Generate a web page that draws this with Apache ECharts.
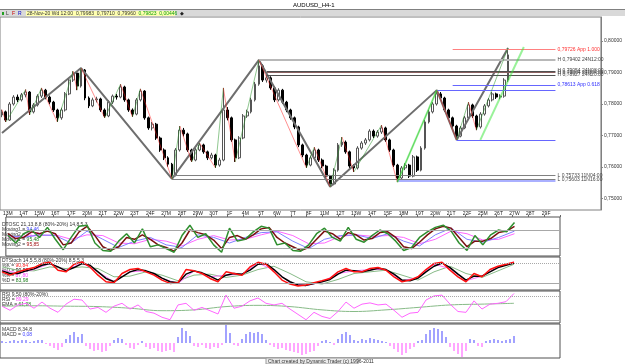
<!DOCTYPE html>
<html><head><meta charset="utf-8">
<script src="https://cdn.jsdelivr.net/npm/echarts@6/dist/echarts.min.js"></script>
<style>html,body{margin:0;padding:0;background:#fff;}#c{width:625px;height:364px;}</style>
</head><body><div id="c"></div>
<script>
// ---------- DATA ----------
const tickLabels = ['13M','14T','15W','16T','17F','20M','21T','22W','23T','24F','27M','28T','29W','30T','1F','4M','5T','6W','7T','8F','11M','12T','13W','14T','15F','18M','19T','20W','21T','22F','25M','26T','27W','28T','29F','1M','2T','3W'];
// [open, close, low, high]
const candles = [
[0.7765,0.7775,0.7758,0.7782],[0.7775,0.7749,0.7743,0.7779],[0.7749,0.7800,0.7746,0.7806],[0.7800,0.7822,0.7795,0.7828],
[0.7822,0.7813,0.7806,0.7830],[0.7813,0.7829,0.7808,0.7835],[0.7829,0.7838,0.7821,0.7846],[0.7838,0.7775,0.7765,0.7841],
[0.7775,0.7797,0.7770,0.7803],[0.7797,0.7825,0.7792,0.7831],[0.7825,0.7844,0.7819,0.7851],[0.7844,0.7822,0.7815,0.7848],
[0.7822,0.7806,0.7799,0.7827],[0.7806,0.7781,0.7775,0.7810],[0.7781,0.7756,0.7743,0.7785],[0.7756,0.7781,0.7750,0.7788],
[0.7781,0.7832,0.7776,0.7838],[0.7832,0.7876,0.7828,0.7882],[0.7876,0.7898,0.7870,0.7904],[0.7898,0.7857,0.7844,0.7901],
[0.7857,0.7908,0.7852,0.7914],[0.7908,0.7819,0.7812,0.7911],[0.7819,0.7794,0.7787,0.7824],[0.7794,0.7813,0.7790,0.7820],
[0.7813,0.7816,0.7805,0.7823],[0.7816,0.7781,0.7775,0.7820],[0.7781,0.7762,0.7756,0.7786],[0.7762,0.7806,0.7758,0.7812],
[0.7806,0.7825,0.7800,0.7830],[0.7825,0.7822,0.7814,0.7832],[0.7822,0.7854,0.7818,0.7863],[0.7854,0.7813,0.7807,0.7858],
[0.7813,0.7781,0.7775,0.7817],[0.7781,0.7768,0.7759,0.7786],[0.7768,0.7813,0.7764,0.7819],[0.7813,0.7841,0.7808,0.7848],
[0.7841,0.7756,0.7750,0.7844],[0.7756,0.7724,0.7718,0.7760],[0.7724,0.7736,0.7716,0.7743],[0.7736,0.7692,0.7686,0.7740],
[0.7692,0.7654,0.7648,0.7697],[0.7654,0.7629,0.7622,0.7659],[0.7629,0.7609,0.7601,0.7634],[0.7609,0.7575,0.7562,0.7613],
[0.7575,0.7654,0.7570,0.7660],[0.7654,0.7717,0.7649,0.7730],[0.7717,0.7705,0.7697,0.7724],[0.7705,0.7654,0.7648,0.7709],
[0.7654,0.7622,0.7616,0.7658],[0.7622,0.7654,0.7618,0.7660],[0.7654,0.7670,0.7650,0.7676],[0.7670,0.7648,0.7642,0.7674],
[0.7648,0.7629,0.7622,0.7652],[0.7629,0.7638,0.7624,0.7645],[0.7638,0.7606,0.7597,0.7642],[0.7606,0.7622,0.7601,0.7629],
[0.7622,0.7781,0.7618,0.7851],[0.7781,0.7756,0.7748,0.7790],[0.7756,0.7686,0.7680,0.7760],[0.7686,0.7629,0.7616,0.7690],
[0.7629,0.7692,0.7625,0.7698],[0.7692,0.7762,0.7688,0.7768],[0.7762,0.7775,0.7756,0.7782],[0.7775,0.7813,0.7770,0.7820],
[0.7813,0.7863,0.7808,0.7870],[0.7863,0.7921,0.7858,0.7940],[0.7921,0.7876,0.7870,0.7926],[0.7876,0.7883,0.7868,0.7892],
[0.7883,0.7851,0.7845,0.7888],[0.7851,0.7813,0.7806,0.7856],[0.7813,0.7844,0.7808,0.7850],[0.7844,0.7806,0.7800,0.7848],
[0.7806,0.7781,0.7774,0.7810],[0.7781,0.7756,0.7750,0.7785],[0.7756,0.7727,0.7720,0.7760],[0.7727,0.7670,0.7663,0.7731],
[0.7670,0.7638,0.7631,0.7674],[0.7638,0.7606,0.7597,0.7642],[0.7606,0.7629,0.7602,0.7636],[0.7629,0.7654,0.7625,0.7663],
[0.7654,0.7622,0.7616,0.7658],[0.7622,0.7603,0.7596,0.7627],[0.7603,0.7571,0.7564,0.7607],[0.7571,0.7546,0.7537,0.7575],
[0.7546,0.7590,0.7542,0.7596],[0.7590,0.7670,0.7585,0.7676],[0.7670,0.7679,0.7664,0.7695],[0.7679,0.7648,0.7642,0.7684],
[0.7648,0.7603,0.7597,0.7652],[0.7603,0.7597,0.7584,0.7609],[0.7597,0.7660,0.7592,0.7666],[0.7660,0.7676,0.7655,0.7682],
[0.7676,0.7686,0.7670,0.7692],[0.7686,0.7714,0.7681,0.7720],[0.7714,0.7698,0.7692,0.7719],[0.7698,0.7711,0.7693,0.7717],
[0.7711,0.7724,0.7705,0.7733],[0.7724,0.7686,0.7680,0.7728],[0.7686,0.7654,0.7648,0.7690],[0.7654,0.7606,0.7600,0.7658],
[0.7606,0.7565,0.7552,0.7610],[0.7565,0.7597,0.7560,0.7603],[0.7597,0.7606,0.7590,0.7612],[0.7606,0.7571,0.7565,0.7610],
[0.7571,0.7632,0.7567,0.7638],[0.7632,0.7590,0.7584,0.7636],[0.7590,0.7660,0.7586,0.7666],[0.7660,0.7743,0.7655,0.7749],
[0.7743,0.7775,0.7738,0.7781],[0.7775,0.7800,0.7770,0.7806],[0.7800,0.7832,0.7795,0.7844],[0.7832,0.7819,0.7812,0.7838],
[0.7819,0.7781,0.7775,0.7823],[0.7781,0.7756,0.7750,0.7785],[0.7756,0.7730,0.7724,0.7760],[0.7730,0.7698,0.7686,0.7734],
[0.7698,0.7724,0.7694,0.7730],[0.7724,0.7756,0.7720,0.7762],[0.7756,0.7797,0.7751,0.7806],[0.7797,0.7762,0.7756,0.7801],
[0.7762,0.7727,0.7717,0.7766],[0.7727,0.7768,0.7722,0.7774],[0.7768,0.7794,0.7763,0.7800],[0.7794,0.7813,0.7789,0.7819],
[0.7813,0.7832,0.7808,0.7838],[0.7832,0.7822,0.7816,0.7836],[0.7822,0.7825,0.7815,0.7831],[0.7825,0.7876,0.7820,0.7882],
[0.7876,0.7956,0.7870,0.7978]
];
const lastPrice = 0.79823;
// major zigzag (bar index, price)
const majorBars   = [0, 20, 43, 65, 83, 110, 115, 128];
const majorPrices = [0.7708, 0.7914, 0.7562, 0.7940, 0.7537, 0.7844, 0.7686, 0.7978];
// minor swings
const swingBars   = [0,1,6,7,10,14,18,19,20,26,30,33,35,43,45,48,50,54,56,59,65,77,79,83,86,89,96,100,110,115,118,120,128];
const swingPrices = [0.7782,0.7743,0.7846,0.7765,0.7851,0.7743,0.7904,0.7844,0.7914,0.7756,0.7863,0.7759,0.7848,0.7562,0.7730,0.7616,0.7676,0.7597,0.7851,0.7616,0.7940,0.7597,0.7663,0.7537,0.7695,0.7584,0.7733,0.7552,0.7844,0.7686,0.7806,0.7717,0.7978];
// bright channel lines
const channelBars   = [[100, 110], [121, 132]];
const channelPrices = [[0.7552, 0.7844], [0.7686, 0.7981]];
// horizontal levels
const levelStart = [65, 67, 67, 67, 114, 114, 110, 115, 43, 43, 100];
const levelEnd = 140;
const levelPrice = [0.7940, 0.7905, 0.7900, 0.7892, 0.7973, 0.7861, 0.7844, 0.7686, 0.7573, 0.7560, 0.7555];
const levelText = ['H 0,79402 24N12:00','H 0,79054 24N08:00','H 0,79004 24N04:00','H 0,78927 24N20:00','0,79726 App 1.000','0,78613 App 0.618','','','L 0,75733 11N04:00','L 0,75603 11N16:00',''];
const priceTicks = [0.75, 0.76, 0.77, 0.78, 0.79, 0.80];
// DTOSC (every 2 bars / every 4 bars)
const dtoscFast = [60,40,65,75,55,82,50,22,55,85,88,40,20,18,45,65,40,78,30,35,25,15,60,88,55,65,35,15,80,45,50,70,85,80,35,40,20,18,35,65,80,55,45,82,50,42,60,75,65,45,20,28,55,70,82,88,72,40,20,60,35,62,75,70,95];
const dtoscSlow = [65,52,55,70,65,72,65,35,40,70,85,60,30,20,30,55,50,62,50,35,28,18,40,75,68,62,48,25,55,60,50,62,78,82,55,40,30,20,28,50,72,65,50,68,62,48,52,68,70,55,30,25,42,62,78,85,80,55,30,45,45,52,68,72,85];
const dtoscBlue = [60,55,62,60,40,72,50,28,45,55,35,28,62,55,40,55,68,70,45,25,50,60,62,52,65,45,32,62,80,50,42,55,72];
const dtoscMag  = [55,58,60,62,50,62,60,40,38,50,45,32,50,60,48,50,62,72,60,38,40,58,62,58,60,55,38,50,72,65,48,50,65];
// DTStoch
const stochK = [55,45,55,62,68,80,84,60,55,78,85,70,45,25,22,50,62,65,55,45,30,20,22,62,58,50,35,25,55,50,45,70,84,78,55,30,18,12,15,22,28,35,55,65,55,55,65,68,60,40,25,30,40,62,80,84,60,40,25,50,40,62,72,78,84];
const stochD = [58,50,50,58,64,75,80,70,58,68,80,75,55,35,25,40,55,62,58,50,36,25,22,48,58,52,42,30,45,50,48,60,78,80,62,40,25,15,14,20,25,32,48,60,58,55,60,66,62,48,30,28,36,55,72,82,68,48,30,42,42,55,68,75,82];
const stochGreen = [70,60,58,70,65,70,65,40,42,55,45,28,45,48,38,45,62,72,50,25,18,32,50,55,60,45,30,55,72,50,38,58,78];
const stochMag   = [60,52,62,80,60,82,55,25,55,58,35,20,58,40,45,48,82,60,22,13,25,50,58,62,62,28,38,78,65,28,42,70,85];
// RSI
const rsi = [55,45,58,62,50,65,50,40,60,72,70,48,52,40,55,62,48,58,42,38,28,22,58,62,45,52,44,36,82,50,55,68,75,62,58,62,48,35,22,40,30,25,42,65,50,60,63,58,60,45,28,38,40,70,80,82,60,42,40,68,48,60,62,66,86];
const rsiEma = [55,56,55,54,50,44,46,54,57,54,46,42,46,52,58,60,62];
// MACD histogram (pips)
const macdHist = [2,1,2,3,2,3,3,1,2,3, 3,-1,-3,-5,-7,-4,4,8,11,6, 9,-3,-6,-8,-7,-9,-8,-3,3,5, 4,-2,-5,-6,-2,2,-4,-6,-5,-8,
 -9,-8,-7,-9,6,15,12,7,-3,-4, -2,-5,-6,-4,-5,-2,18,10,-2,-3, 4,9,11,10,11,9,3,-2,-4,-6, -5,-7,-8,-9,-10,-12,-11,-9,-8,-3,
 2,3,1,-2,4,9,11,8,3,2, 4,3,5,4,3,2,1,-3,-6,-9, -12,-10,-6,-4,2,3,9,13,15,14, 12,6,-4,-8,-11,-14,-8,4,3,-3, -4,2,3,4,3,2,3,4,7];

// ---------- BUILD ----------
const FONT = 'Liberation Sans';
const NMAIN = 152, NIND = 140;
const cats = [];
for (let i = 0; i < NMAIN; i++) cats.push(i % 4 === 0 ? (tickLabels[i / 4] || '') : '');
const indCats = cats.slice(0, NIND);
const fmtPrice = v => v.toFixed(5).replace('.', ',');
const stepped = (arr, s) => arr.map((v, k) => [s * k, v]);

const levelColor = ['#b8b8b8','#505050','#8a6060','#505050','#ff8080','#6666ff','#6666ff','#6666ff','#808080','#808080','#aab0ff'];
const levelWidth = [2,1,1,1,1,1,1,1,1,1,2];
const levelLabelColor = ['#444','#444','#444','#444','#ff3030','#3030ff','#3030ff','#3030ff','#444','#444','#444'];

const markLevels = levelPrice.map((p, k) => [
  { coord: [levelStart[k], p], lineStyle: { color: levelColor[k], width: levelWidth[k], type: 'solid' },
    label: { show: levelText[k] !== '', position: 'end', formatter: levelText[k], fontSize: 5, fontFamily: FONT, color: levelLabelColor[k], distance: 2 } },
  { coord: [levelEnd, p] }
]);
markLevels.push({ yAxis: lastPrice, lineStyle: { opacity: 0 },
  label: { show: true, position: 'end', formatter: fmtPrice(lastPrice), fontSize: 5, fontFamily: FONT, color: '#000', backgroundColor: '#ffff00', padding: [1, 2], distance: 1, offset: [0, 8] } });

const minorSegs = [];
for (let k = 1; k < swingBars.length; k++) {
  const a = [swingBars[k - 1], swingPrices[k - 1]], b = [swingBars[k], swingPrices[k]];
  minorSegs.push({ coords: [a, b], lineStyle: { color: b[1] < a[1] ? '#ff2020' : '#1f8f1f' } });
}
const channelSegs = channelBars.map((b, k) => ({ coords: [[b[0], channelPrices[k][0]], [b[1], channelPrices[k][1]]] }));

const gridBase = { show: true, backgroundColor: '#fff', borderColor: '#505050', borderWidth: 1 };
const hiddenX = (gi, data) => ({ type: 'category', gridIndex: gi, data: data, boundaryGap: true, axisLine: { show: false }, axisTick: { show: false }, axisLabel: { show: false }, splitLine: { show: false } });
const hiddenY = (gi, min, max) => ({ type: 'value', gridIndex: gi, min: min, max: max, axisLine: { show: false }, axisTick: { show: false }, axisLabel: { show: false }, splitLine: { show: false } });
const refLines = (vals, types) => ({ silent: true, symbol: 'none', label: { show: false },
  data: vals.map((v, k) => ({ yAxis: v, lineStyle: { color: '#a8a8a8', width: 1, type: types[k] } })) });
const ln = (xi, data, color, width) => ({ type: 'line', xAxisIndex: xi, yAxisIndex: xi, data: data, showSymbol: false, symbol: 'none', lineStyle: { color: color, width: width }, silent: true, z: 3 });

const txt = (x, y, text, fill, size, extra) => Object.assign({ type: 'text', x: x, y: y, silent: true,
  style: { text: text, fill: fill || '#000', fontSize: size || 5, fontFamily: FONT } }, extra || {});
const rich = (x, y, parts) => ({ type: 'text', x: x, y: y, silent: true,
  style: { text: parts.map((p, k) => '{s' + k + '|' + p[0] + '}').join(''), fontSize: 5, fontFamily: FONT,
    rich: Object.fromEntries(parts.map((p, k) => ['s' + k, { fill: p[1], fontSize: 5, fontFamily: FONT }])) } });

const option = {
  animation: false,
  backgroundColor: '#fff',
  grid: [
    Object.assign({}, gridBase, { left: 0, top: 17, width: 606, height: 193, borderColor: '#808080' }),
    Object.assign({}, gridBase, { left: 0, top: 217, width: 560, height: 39 }),
    Object.assign({}, gridBase, { left: 0, top: 257, width: 560, height: 33 }),
    Object.assign({}, gridBase, { left: 0, top: 291, width: 560, height: 32 }),
    Object.assign({}, gridBase, { left: 0, top: 324, width: 560, height: 34 })
  ],
  xAxis: [
    hiddenX(0, cats),
    Object.assign(hiddenX(1, indCats), { position: 'top',
      axisLabel: { show: true, interval: 0, fontSize: 5, fontFamily: FONT, color: '#222', margin: 1 },
      axisTick: { show: true, interval: i => i % 4 === 0, length: 2, lineStyle: { color: '#666' } } }),
    hiddenX(2, indCats), hiddenX(3, indCats), hiddenX(4, indCats)
  ],
  yAxis: [
    { type: 'value', gridIndex: 0, position: 'right', min: 0.74634, max: 0.80762, scale: true,
      axisLine: { show: true, lineStyle: { color: '#808080' } },
      axisTick: { show: true, length: 2, customValues: priceTicks, lineStyle: { color: '#808080' } },
      axisLabel: { show: true, customValues: priceTicks, formatter: fmtPrice, fontSize: 5, fontFamily: FONT, color: '#333', margin: 3 },
      splitLine: { show: false } },
    hiddenY(1, 5, 110), hiddenY(2, 0, 100), hiddenY(3, 14, 92), hiddenY(4, -15, 19)
  ],
  series: [
    { type: 'candlestick', xAxisIndex: 0, yAxisIndex: 0, data: candles, barWidth: 2.4, silent: true, z: 2,
      itemStyle: { color: '#ffffff', color0: '#000000', borderColor: '#555555', borderColor0: '#000000', borderWidth: 1 },
      markLine: { silent: true, symbol: ['none', 'none'], animation: false, data: markLevels } },
    { type: 'line', xAxisIndex: 0, yAxisIndex: 0, data: majorBars.map((b, k) => [b, majorPrices[k]]), showSymbol: false, symbol: 'none',
      lineStyle: { color: '#6e6e6e', width: 2 }, silent: true, z: 4 },
    { type: 'lines', coordinateSystem: 'cartesian2d', xAxisIndex: 0, yAxisIndex: 0, data: minorSegs, lineStyle: { width: 1 }, silent: true, z: 5 },
    { type: 'lines', coordinateSystem: 'cartesian2d', xAxisIndex: 0, yAxisIndex: 0, data: channelSegs, lineStyle: { width: 2, color: '#33e633' }, silent: true, z: 5 },

    Object.assign(ln(1, stepped(dtoscMag, 4), '#ff66ff', 1), { markLine: refLines([75, 25], ['solid', 'solid']) }),
    ln(1, stepped(dtoscBlue, 4), '#8080ff', 1),
    ln(1, stepped(dtoscSlow, 2), '#7a1010', 1.5),
    ln(1, stepped(dtoscFast, 2), '#2f8f2f', 1.5),

    Object.assign(ln(2, stepped(stochGreen, 4), '#88bb88', 1), { markLine: refLines([80, 20], ['dotted', 'solid']) }),
    ln(2, stepped(stochMag, 4), '#ff77ff', 1),
    ln(2, stepped(stochD, 2), '#000000', 1.5),
    ln(2, stepped(stochK, 2), '#ff1010', 1.5),

    Object.assign(ln(3, stepped(rsiEma, 8), '#88bb88', 1), { smooth: 0.4, markLine: refLines([80, 20], ['dotted', 'solid']) }),
    ln(3, stepped(rsi, 2), '#ff66ff', 1),

    { type: 'bar', xAxisIndex: 4, yAxisIndex: 4, data: macdHist, barWidth: 1.4, silent: true,
      itemStyle: { color: p => p.value >= 0 ? '#7b7bff' : '#ff80ff' } }
  ],
  graphic: [
    { type: 'rect', shape: { x: 0, y: 9, width: 625, height: 1 }, style: { fill: '#808080' }, silent: true },
    { type: 'rect', shape: { x: 0, y: 10, width: 625, height: 6 }, style: { fill: '#d9d9d9' }, silent: true },
    txt(293, 2, 'AUDUSD_H4-1', '#000', 6),
    { type: 'rect', shape: { x: 2, y: 12, width: 2, height: 3 }, style: { fill: '#20a020' }, silent: true },
    txt(6, 11, 'L', '#333', 5), txt(12, 11, 'F', '#cc0000', 5), txt(18, 11, 'R', '#0000cc', 5),
    { type: 'rect', shape: { x: 26, y: 11, width: 149, height: 5 }, style: { fill: '#ffffb0' }, silent: true },
    rich(27, 11, [['28-Nov-20 Wd 12:00  ', '#333'], ['0,79983  ', '#333'], ['0,79710  ', '#333'], ['0,79960  ', '#333'], ['0,79823  ', '#10a010'], ['0,00446', '#10a010']]),
    txt(180, 11, '\u25C6', '#222', 5),

    txt(2, 222, 'DTOSC 21,13,8,8 (80%-20%) 14,8,5,3', '#333', 5),
    rich(2, 227, [['Moving1 = ', '#333'], ['94,46', '#4040ff']]),
    rich(2, 232, [['Moving2 = ', '#333'], ['91,79', '#ff40ff']]),
    rich(2, 237, [['Moving1 = ', '#333'], ['95,48', '#208020']]),
    rich(2, 242, [['Moving2 = ', '#333'], ['95,85', '#a01010']]),

    txt(2, 258, 'DTStoch 14,5,5,8 (80%-20%) 8,5,5,3', '#333', 5),
    rich(2, 263, [['%K = ', '#333'], ['90,84', '#ff2020']]),
    rich(2, 268, [['%D = ', '#333'], ['90,92', '#000']]),
    rich(2, 273, [['%K = ', '#333'], ['87,80', '#ff40ff']]),
    rich(2, 278, [['%D = ', '#333'], ['83,98', '#208020']]),

    txt(2, 292, 'RSI 9,50 (80%-20%)', '#333', 5),
    rich(2, 297, [['RSI = ', '#333'], ['89,29', '#ff40ff']]),
    rich(2, 302, [['EMA = ', '#333'], ['61,28', '#208020']]),

    txt(2, 327, 'MACD 8,34,8', '#333', 5),
    rich(2, 332, [['MACD = ', '#333'], ['0,08', '#4040ff']]),

    { type: 'rect', shape: { x: 266, y: 358, width: 92, height: 6 }, style: { fill: '#ececec', stroke: '#9a9a9a', lineWidth: 1 }, silent: true },
    txt(268, 359, 'Chart created by Dynamic Trader (c) 1996-2011', '#333', 5)
  ]
};
const chart = echarts.init(document.getElementById('c'));
chart.setOption(option);
</script>
</body></html>
